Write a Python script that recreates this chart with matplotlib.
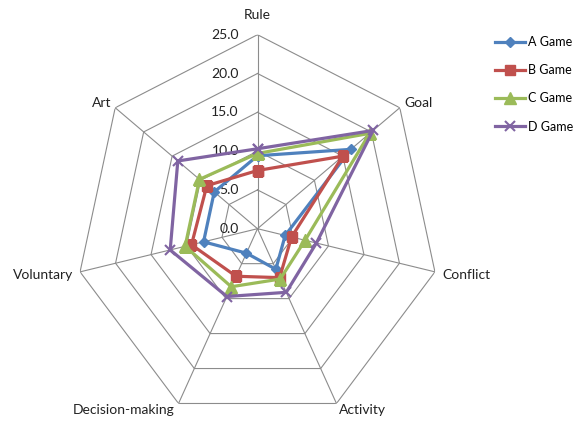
import numpy as np
import matplotlib.pyplot as plt

plt.rcParams['font.family'] = ['Lato', 'DejaVu Sans']

categories = ['Rule', 'Goal', 'Conflict', 'Activity', 'Decision-making', 'Voluntary', 'Art']
series_names = ['A Game', 'B Game', 'C Game', 'D Game']
a_game = [9.4, 16.4, 3.9, 5.8, 3.5, 7.6, 7.6]
b_game = [7.5, 15.0, 4.8, 7.0, 6.8, 9.3, 8.9]
c_game = [9.7, 19.7, 6.7, 7.2, 8.3, 10.2, 10.2]
d_game = [10.3, 20.3, 8.3, 9.1, 9.7, 12.3, 14.0]
ticks = [0, 5, 10, 15, 20, 25]
tick_labels = ['0.0', '5.0', '10.0', '15.0', '20.0', '25.0']

colors = ['#4F81BD', '#C0504D', '#9BBB59', '#8064A2']
markers = ['D', 's', '^', 'x']
msizes = [5.5, 7.5, 8, 7.5]

n = len(categories)
theta = np.arange(n) * 2 * np.pi / n
theta_c = np.append(theta, theta[0])

fig = plt.figure(figsize=(5.79, 4.21), dpi=100)
W, H = 579, 421
cx, cy, rx, ry = 257.5, 228.7, 182, 194
ax = fig.add_axes([(cx - rx) / W, (H - cy - ry) / H, 2 * rx / W, 2 * ry / H], projection='polar')
ax.set_aspect('auto')
ax.set_theta_zero_location('N')
ax.set_theta_direction(-1)
ax.set_ylim(0, 25)
ax.grid(False)
ax.set_xticks([])
ax.set_yticks([])
ax.spines['polar'].set_visible(False)
ax.patch.set_alpha(0)

grid_col = '#8c8c8c'
for r in ticks[1:]:
    ax.plot(theta_c, [r] * (n + 1), color=grid_col, lw=0.8, zorder=1)
for t in theta:
    ax.plot([t, t], [0, 25], color=grid_col, lw=0.8, zorder=1)

for r, lab in zip(ticks, tick_labels):
    ax.annotate(lab, xy=(0, r), xytext=(-13.5, 0), textcoords='offset points',
                ha='right', va='center', fontsize=10, color='#222222')

# label offsets (points) and alignment per axis
label_pos = [((0, 14.5), 'center'), ((3.5, 3.5), 'left'), ((5, -2.5), 'left'),
             ((2, -5), 'left'), ((-3, -5), 'right'), ((-5, -2.5), 'right'),
             ((-3, 3.5), 'right')]
for t, lab, (off, ha) in zip(theta, categories, label_pos):
    ax.annotate(lab, xy=(t, 25), xytext=off, textcoords='offset points',
                ha=ha, va='center', fontsize=10, color='#222222')

series = [a_game, b_game, c_game, d_game]
for vals, name, c, m, ms in zip(series, series_names, colors, markers, msizes):
    v = np.append(vals, vals[0])
    ax.plot(theta_c, v, color=c, lw=2.3, marker=m, ms=ms, mew=1.5 if m == 'x' else 1,
            label=name, zorder=3)

fig.legend(loc='upper left', bbox_to_anchor=(490 / W, 1 - 31 / H), frameon=False,
           fontsize=9, handlelength=2.4, handletextpad=0.25, labelspacing=1.3,
           borderaxespad=0)

fig.savefig('out.png', dpi=100)
